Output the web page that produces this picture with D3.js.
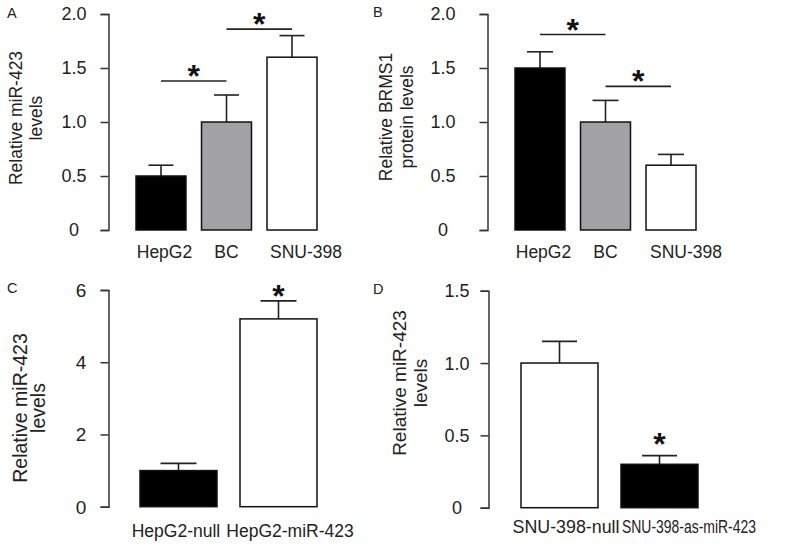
<!DOCTYPE html>
<html>
<head>
<meta charset="utf-8">
<script src="https://cdn.jsdelivr.net/npm/d3@7"></script>
<style>
  body { margin: 0; background: #fff; }
  svg { display: block; font-family: "Liberation Sans", Arial, sans-serif; }
</style>
</head>
<body>
<svg id="chart" width="800" height="547"></svg>
<script>
"use strict";

// panel A: miR-423 in cell lines
var catsA = ["HepG2", "BC", "SNU-398"],
	valsA = [0.5, 1.0, 1.6],
	errsA = [0.6, 1.25, 1.8],
	ticksA = [0, 0.5, 1.0, 1.5, 2.0],
	tickLabelsA = ["0", "0.5", "1.0", "1.5", "2.0"];

// panel B: BRMS1 protein
var catsB = ["HepG2", "BC", "SNU-398"],
	valsB = [1.5, 1.0, 0.6],
	errsB = [1.65, 1.2, 0.7],
	ticksB = [0, 0.5, 1.0, 1.5, 2.0],
	tickLabelsB = ["0", "0.5", "1.0", "1.5", "2.0"];

// panel C: HepG2 transfection
var catsC = ["HepG2-null", "HepG2-miR-423"],
	valsC = [1.0, 5.2],
	errsC = [1.2, 5.7],
	ticksC = [0, 2, 4, 6],
	tickLabelsC = ["0", "2", "4", "6"];

// panel D: SNU-398 transfection
var catsD = ["SNU-398-null", "SNU-398-as-miR-423"],
	valsD = [1.0, 0.3],
	errsD = [1.15, 0.36],
	ticksD = [0, 0.5, 1.0, 1.5],
	tickLabelsD = ["0", "0.5", "1.0", "1.5"];

// significance marks: bracket between two bars at a value, or star over one bar
var sigA = [{a: 0, b: 1, y: 1.38}, {a: 1, b: 2, y: 1.86}],
	sigB = [{a: 0, b: 1, y: 1.81}, {a: 1, b: 2, y: 1.33}],
	starC = [{i: 1, y: 5.7}],
	starD = [{i: 1, y: 0.36}];

var fills = {A: ["#000", "#a2a2a6", "#fff"], B: ["#000", "#a2a2a6", "#fff"], C: ["#000", "#fff"], D: ["#fff", "#000"]};

var svg = d3.select("#chart");
var ink = "#222";

var panels = [
	{id: "A", cats: catsA, vals: valsA, errs: errsA, ticks: ticksA, tl: tickLabelsA, sig: sigA, stars: [],
		letter: [7, 18], axisX: 108.5, yr: [230, 14], dom: [0, 2], tickX: 74, tickFont: 18,
		bars: [136, 317], pad: 0.237, cap: 25,
		ylab: ["Relative miR-423", "levels"], ylabX: [22, 42], ylabY: 118, ylabFont: 17.5,
		xlabY: 258, xFont: 17.5, shift: [3.5, 0, 14]},
	{id: "B", cats: catsB, vals: valsB, errs: errsB, ticks: ticksB, tl: tickLabelsB, sig: sigB, stars: [],
		letter: [373, 17], axisX: 487.5, yr: [230, 14], dom: [0, 2], tickX: 443, tickFont: 18,
		bars: [515, 696], pad: 0.237, cap: 26,
		ylab: ["Relative BRMS1", "protein levels"], ylabX: [392, 413], ylabY: 117, ylabFont: 17.5,
		xlabY: 258, xFont: 17.5, shift: [3.5, 0, 15]},
	{id: "C", cats: catsC, vals: valsC, errs: errsC, ticks: ticksC, tl: tickLabelsC, sig: [], stars: starC,
		letter: [7, 293], axisX: 108.5, yr: [506.7, 290], dom: [0, 6], tickX: 81, tickFont: 19,
		bars: [140, 317], pad: 0.23, cap: 36,
		ylab: ["Relative miR-423", "levels"], ylabX: [27, 45], ylabY: 408, ylabFont: 19.5,
		xlabY: 537, xFont: 17.5, shift: [-2.5, 11.5]},
	{id: "D", cats: catsD, vals: valsD, errs: errsD, ticks: ticksD, tl: tickLabelsD, sig: [], stars: starD,
		letter: [373, 294], axisX: 488.5, yr: [507.7, 290.7], dom: [0, 1.5], tickX: 457, tickFont: 18,
		bars: [521, 698], pad: 0.23, cap: 35,
		ylab: ["Relative miR-423", "levels"], ylabX: [406, 427], ylabY: 383, ylabFont: 19,
		xlabY: 533, xFont: 17.5, shift: [6.5, 29.5], fit: [107, 134]}
];

function drawPanel(p) {
	var g = svg.append("g").attr("class", "panel-" + p.id);
	var y = d3.scaleLinear().domain(p.dom).range(p.yr);
	var x = d3.scaleBand().domain(p.cats).range(p.bars).paddingInner(p.pad).paddingOuter(0);
	var cx = function(i) { return x(p.cats[i]) + x.bandwidth() / 2; };

	g.append("text")
		.attr("x", p.letter[0]).attr("y", p.letter[1])
		.attr("font-size", 14.5).attr("fill", ink)
		.text(p.id);

	// y axis
	var axis = d3.axisLeft(y).tickValues(p.ticks).tickSize(8).tickFormat("");
	var ax = g.append("g").attr("transform", "translate(" + p.axisX + ",0)").call(axis);
	ax.selectAll("path, line").attr("stroke", "#333").attr("stroke-width", 1.5);

	g.selectAll(".tl").data(p.ticks).enter().append("text")
		.attr("class", "tl")
		.attr("x", p.tickX).attr("y", function(d) { return y(d); })
		.attr("dy", "0.36em").attr("text-anchor", "middle")
		.attr("font-size", p.tickFont).attr("fill", ink)
		.text(function(d, i) { return p.tl[i]; });

	// y label, two lines rotated
	p.ylab.forEach(function(line, i) {
		g.append("text")
			.attr("transform", "translate(" + p.ylabX[i] + "," + p.ylabY + ") rotate(-90)")
			.attr("text-anchor", "middle")
			.attr("font-size", p.ylabFont).attr("fill", ink)
			.text(line);
	});

	// error bars (upper only)
	var eb = g.selectAll(".err").data(p.errs).enter().append("g").attr("class", "err")
		.attr("stroke", "#222").attr("stroke-width", 1.6);
	eb.append("line")
		.attr("x1", function(d, i) { return cx(i); }).attr("x2", function(d, i) { return cx(i); })
		.attr("y1", function(d, i) { return y(p.vals[i]); }).attr("y2", function(d) { return y(d); });
	eb.append("line")
		.attr("x1", function(d, i) { return cx(i) - p.cap / 2; })
		.attr("x2", function(d, i) { return cx(i) + p.cap / 2; })
		.attr("y1", function(d) { return y(d); }).attr("y2", function(d) { return y(d); });

	// bars
	g.selectAll(".bar").data(p.vals).enter().append("rect")
		.attr("class", "bar")
		.attr("x", function(d, i) { return x(p.cats[i]); })
		.attr("width", x.bandwidth())
		.attr("y", function(d) { return y(d); })
		.attr("height", function(d) { return y(0) - y(d); })
		.attr("fill", function(d, i) { return fills[p.id][i]; })
		.attr("stroke", "#111").attr("stroke-width", 1.5);

	// category labels
	var xl = g.selectAll(".xl").data(p.cats).enter().append("text")
		.attr("class", "xl")
		.attr("x", function(d, i) { return cx(i) + p.shift[i]; })
		.attr("y", p.xlabY)
		.attr("text-anchor", "middle")
		.attr("font-size", p.xFont).attr("fill", ink)
		.text(function(d) { return d; });
	if (p.fit) {
		// the long labels are squeezed in the original
		xl.attr("textLength", function(d, i) { return p.fit[i]; })
			.attr("lengthAdjust", "spacingAndGlyphs");
	}

	// significance brackets
	p.sig.forEach(function(s) {
		var x1 = cx(s.a), x2 = cx(s.b);
		g.append("line")
			.attr("x1", x1).attr("x2", x2)
			.attr("y1", y(s.y)).attr("y2", y(s.y))
			.attr("stroke", "#222").attr("stroke-width", 1.6);
		star(g, (x1 + x2) / 2, y(s.y) - 9);
	});
	p.stars.forEach(function(s) {
		star(g, cx(s.i), y(s.y) - (p.id === "C" ? 8.5 : 15.5));
	});
}

// asterisk centred on (x, yc)
function star(g, x, yc) {
	g.append("text")
		.attr("x", x).attr("y", yc + 15)
		.attr("text-anchor", "middle")
		.attr("font-size", 32).attr("font-weight", "bold").attr("fill", "#111")
		.text("*");
}

panels.forEach(drawPanel);
</script>
</body>
</html>
